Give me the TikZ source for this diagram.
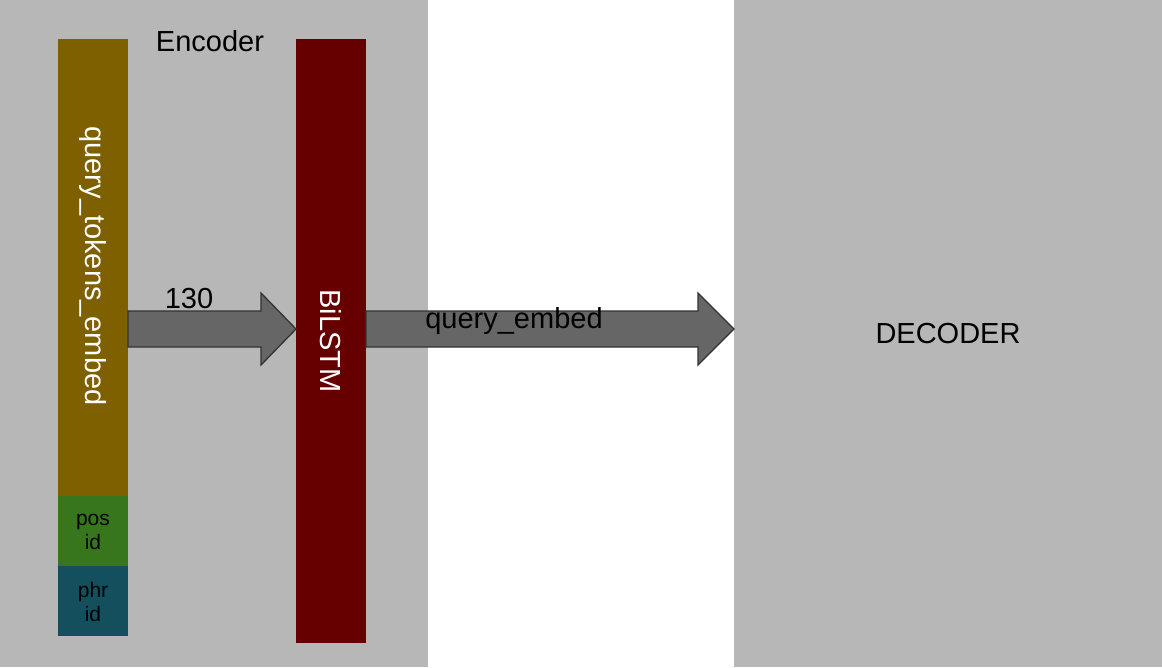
\documentclass[tikz,border=0pt]{standalone}
\usepackage{fontspec}
\setmainfont{Liberation Sans}
\definecolor{bggray}{HTML}{B7B7B7}
\definecolor{gold}{HTML}{7F6000}
\definecolor{posgreen}{HTML}{38761D}
\definecolor{phrblue}{HTML}{134F5C}
\definecolor{lstmred}{HTML}{660000}
\definecolor{arrowfill}{HTML}{666666}
\definecolor{arrowline}{HTML}{333333}
\begin{document}
\begin{tikzpicture}[x=1pt,y=-1pt,
  bar/.style={draw=none,minimum width=70pt,inner sep=0pt,outer sep=0pt,anchor=north west},
  bigtext/.style={font=\fontsize{29}{33}\selectfont},
  smalltext/.style={font=\fontsize{21}{24}\selectfont,align=center,text=black},
  blockarrow/.style={fill=arrowfill,draw=arrowline,line width=1.3pt,line join=miter}]
\useasboundingbox (0,0) rectangle (1162,667);
\fill[white] (0,0) rectangle (1162,667);
\fill[bggray] (0,0) rectangle (428,667);
\fill[bggray] (734,0) rectangle (1162,667);
% bars
\node[bar,fill=gold,minimum height=457pt] (qte) at (58,39) {};
\node[bar,fill=posgreen,minimum height=70pt] (pos) at (58,496) {};
\node[bar,fill=phrblue,minimum height=70pt] (phr) at (58,566) {};
\node[bar,fill=lstmred,minimum height=604pt] (lstm) at (296,39) {};
% texts
\node[bigtext,text=white,rotate=-90] (qtelabel) at (93,266) {query\_tokens\_embed};
\node[bigtext,text=white,rotate=-90] (lstmlabel) at (331,341) {BiLSTM};
\node[smalltext] (poslabel) at (93,532) {pos\\id};
\node[smalltext] (phrlabel) at (93,602) {phr\\id};
\node[bigtext] (enc) at (210,41) {Encoder};
\node[bigtext] (dec) at (948,334) {DECODER};
% block arrows
\draw[blockarrow] (qte.east |- 0,311) -- (261,311) -- (261,293) -- (lstm.west |- 0,329) -- (261,365) -- (261,347) -- (qte.east |- 0,347) -- cycle;
\draw[blockarrow] (lstm.east |- 0,311) -- (698,311) -- (698,293) -- (734,329) -- (698,365) -- (698,347) -- (lstm.east |- 0,347) -- cycle;
\node[bigtext] (n130) at (189,299) {130};
\node[bigtext] (qe) at (514,321) {query\_embed};
\end{tikzpicture}
\end{document}
